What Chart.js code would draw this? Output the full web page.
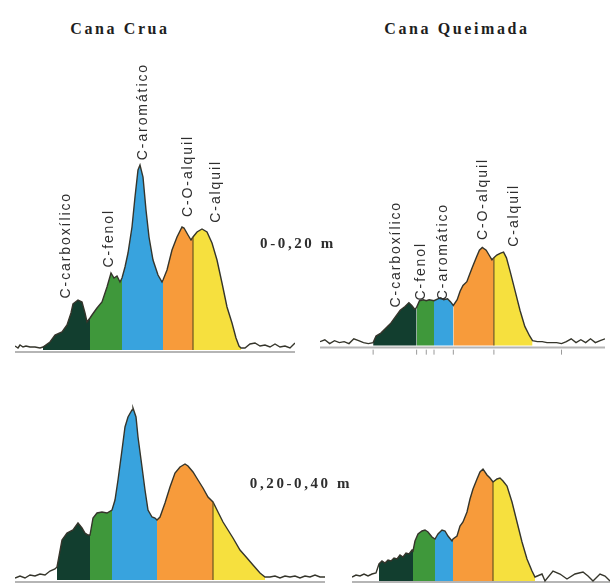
<!DOCTYPE html>
<html><head><meta charset="utf-8">
<script src="https://cdn.jsdelivr.net/npm/chart.js@4.4.1/dist/chart.umd.min.js"></script>
<style>
html,body{margin:0;padding:0;background:#fff;}
#stage{position:relative;width:610px;height:583px;overflow:hidden;background:#fff;}
canvas{position:absolute;}
.title{position:absolute;width:240px;text-align:center;font:bold 16px "Liberation Serif",serif;letter-spacing:2.6px;color:#1e1e1e;line-height:18px;}
.depth{position:absolute;width:180px;text-align:center;font:bold 15px "Liberation Serif",serif;letter-spacing:2.6px;color:#2e2e2e;line-height:16px;}
.lab{position:absolute;writing-mode:vertical-rl;transform:rotate(180deg);font:14px "Liberation Sans",Arial,sans-serif;letter-spacing:1.9px;color:#2e2e2e;line-height:16px;white-space:nowrap;}
</style></head>
<body>
<div id="stage">
  <canvas id="tl" width="280" height="210" style="left:15px;top:150px"></canvas>
  <canvas id="tr" width="295" height="210" style="left:315px;top:150px"></canvas>
  <canvas id="bl" width="310" height="203" style="left:15px;top:380px"></canvas>
  <canvas id="br" width="258" height="203" style="left:352px;top:380px"></canvas>

  <div class="title" style="left:0px;top:20px">Cana Crua</div>
  <div class="title" style="left:337px;top:20px">Cana Queimada</div>
  <div class="depth" style="left:208px;top:235px">0-0,20 m</div>
  <div class="depth" style="left:211px;top:475px">0,20-0,40 m</div>

  <div class="lab" style="left:57px;bottom:285px">C-carboxílico</div>
  <div class="lab" style="left:100px;bottom:316px">C-fenol</div>
  <div class="lab" style="left:134px;bottom:423px">C-aromático</div>
  <div class="lab" style="left:179px;bottom:366px">C-O-alquil</div>
  <div class="lab" style="left:207px;bottom:360px">C-alquil</div>

  <div class="lab" style="left:387px;bottom:276px">C-carboxílico</div>
  <div class="lab" style="left:412px;bottom:283px">C-fenol</div>
  <div class="lab" style="left:434px;bottom:283px">C-aromático</div>
  <div class="lab" style="left:474px;bottom:343px">C-O-alquil</div>
  <div class="lab" style="left:505px;bottom:336px">C-alquil</div>
</div>
<script>
// Region names (13C NMR spectra, chemical shift in ppm, intensity in a.u.)
const regionNames = ['C-carboxílico', 'C-fenol', 'C-aromático', 'C-O-alquil', 'C-alquil'];

// Cana Crua, 0-0,20 m
const cruaTopShift = [250,247,245,242,239,235,230,225,222,215,210,203,198,194,192,187,183,180,178,175,173,168,163,158,154,151,148,145,143,140,137,133,130,127,125,122,119,116,112,107,103,102,98,93,88,83,81,77,74,72,68,63,58,53,48,43,38,33,29,26,24,20,15,10,5,0,-5,-10,-15,-20,-25,-30];
const cruaTopIntensity = [4,2,5,3,4,3,3,2,3,8,15,18,25,37,46,50,48,37,28,32,35,42,48,63,77,72,74,68,72,83,97,123,153,180,185,173,140,113,90,75,68,70,80,100,113,123,122,115,110,113,118,121,118,107,90,67,43,27,12,4,2,2,6,7,4,5,3,6,3,4,2,7];
const cruaTopBounds = [222,175,143,102,72,24];

// Cana Queimada, 0-0,20 m
const queimadaTopShift = [250,245,240,235,230,225,220,215,210,205,200,195,192,187,182,177,172,167,162,158,155,152,150,147,143,140,137,132,128,125,122,118,115,112,108,105,102,98,95,92,88,85,82,78,75,72,70,67,63,60,57,53,48,43,38,33,30,25,20,15,10,5,0,-5,-10,-15,-20,-25,-30,-35,-40,-45];
const queimadaTopIntensity = [4,6,2,5,3,4,2,7,5,3,2,3,10,13,18,23,30,37,41,45,42,38,40,47,48,47,48,47,49,50,48,49,46,42,48,57,63,67,75,83,93,100,103,100,95,90,92,95,97,98,92,77,57,37,20,10,5,4,4,3,3,3,2,4,7,3,6,3,7,3,5,7];
const queimadaTopBounds = [195,150,132,112,70,30];
const queimadaTopTicks = [195,150,140,132,112,70,0];

// Cana Crua, 0,20-0,40 m
const cruaBottomShift = [250,245,240,235,230,225,220,215,210,208,203,198,192,187,183,180,177,175,172,168,163,158,153,150,147,143,140,137,133,132,129,127,123,120,117,113,110,108,105,100,95,90,85,80,77,72,67,62,57,52,47,42,37,32,25,18,12,5,0,-5,-10,-15,-20,-25,-30,-35,-40,-45,-50,-55,-60];
const cruaBottomIntensity = [2,4,2,5,4,6,5,9,11,13,40,47,50,57,52,47,45,45,62,67,68,67,70,80,100,130,153,163,170,172,163,143,113,90,70,63,62,60,63,77,93,107,113,116,114,108,100,92,83,78,68,58,50,42,30,22,15,7,3,3,4,2,4,3,4,2,4,3,5,3,3];
const cruaBottomBounds = [208,175,153,108,52,0];

// Cana Queimada, 0,20-0,40 m
const queimadaBottomShift = [250,246,242,238,234,230,226,223,220,217,214,211,208,205,202,199,196,193,190,189,187,184,180,177,174,170,167,164,160,157,154,150,149,145,142,139,135,132,129,125,122,119,115,112,109,105,102,99,95,90,85,80,75,70,67,60,57,49,42,35,27,19,14,9,2,-3,-8];
const queimadaBottomIntensity = [4,6,5,7,5,7,8,17,20,18,21,20,23,22,26,24,28,27,31,30,40,47,50,51,49,44,42,47,51,50,45,40,42,45,55,59,69,82,92,102,109,112,106,103,99,102,103,100,95,79,59,39,22,10,4,7,0,10,7,2,7,9,5,0,7,5,0];
const queimadaBottomBounds = [223,189,167,149,109,67];

// Styles
const regionColors = ['#123e2f', '#3f983b', '#38a3de', '#f79b3b', '#f6e03e'];
const outlineColor = '#35352b';
const dividerColor = '#6b5520';

function buildPanel(id, shifts, ints, bounds, xMin, xMax, yMin, yMax, baseY, ticks) {
  const datasets = [];
  const all = shifts.map((s, i) => ({ x: s, y: ints[i] }));
  datasets.push({ label: 'espectro', data: all, borderColor: outlineColor, borderWidth: 1.4, fill: false, pointRadius: 0, order: 1 });
  for (let r = 0; r < regionNames.length; r++) {
    const hi = bounds[r], lo = bounds[r + 1];
    const pts = [];
    shifts.forEach((s, i) => { if (s <= hi && s >= lo) pts.push({ x: s, y: ints[i] }); });
    datasets.push({ label: regionNames[r], data: pts, fill: 'origin', backgroundColor: regionColors[r],
      borderColor: 'rgba(0,0,0,0)', borderWidth: 0, pointRadius: 0, order: 3 });
  }
  const b = bounds[4];
  const bi = shifts.indexOf(b);
  datasets.push({ label: 'divisão', data: [{ x: b, y: 0 }, { x: b, y: ints[bi] }], borderColor: dividerColor, borderWidth: 1.2, pointRadius: 0, fill: false, order: 0 });
  datasets.push({ label: 'base', data: [{ x: xMax, y: baseY }, { x: xMin, y: baseY }], borderColor: '#b5b5b5', borderWidth: 2, pointRadius: 0, fill: false, order: 4 });
  if (ticks) {
    datasets.push({ label: 'ticks', data: ticks.map(t => ({ x: t, y: -7 })), showLine: false, pointStyle: 'line', rotation: 90,
      pointRadius: 2.5, borderColor: '#9a9a9a', borderWidth: 1, order: 2 });
  }
  new Chart(document.getElementById(id), {
    type: 'line',
    data: { datasets },
    options: {
      responsive: false, animation: false, events: [],
      layout: { padding: 0 },
      plugins: { legend: { display: false }, tooltip: { enabled: false }, title: { display: false } },
      scales: {
        x: { type: 'linear', reverse: true, min: xMin, max: xMax, display: false },
        y: { type: 'linear', min: yMin, max: yMax, display: false }
      },
      elements: { line: { tension: 0 }, point: { radius: 0 } }
    }
  });
}

buildPanel('tl', cruaTopShift, cruaTopIntensity, cruaTopBounds, -30, 250, -10, 200, -2, null);
buildPanel('tr', queimadaTopShift, queimadaTopIntensity, queimadaTopBounds, -45, 250, -10, 200, -2, queimadaTopTicks);
buildPanel('bl', cruaBottomShift, cruaBottomIntensity, cruaBottomBounds, -60, 250, -3, 200, -2, null);
buildPanel('br', queimadaBottomShift, queimadaBottomIntensity, queimadaBottomBounds, -8, 250, -2, 201, -1, null);
</script>
</body></html>
